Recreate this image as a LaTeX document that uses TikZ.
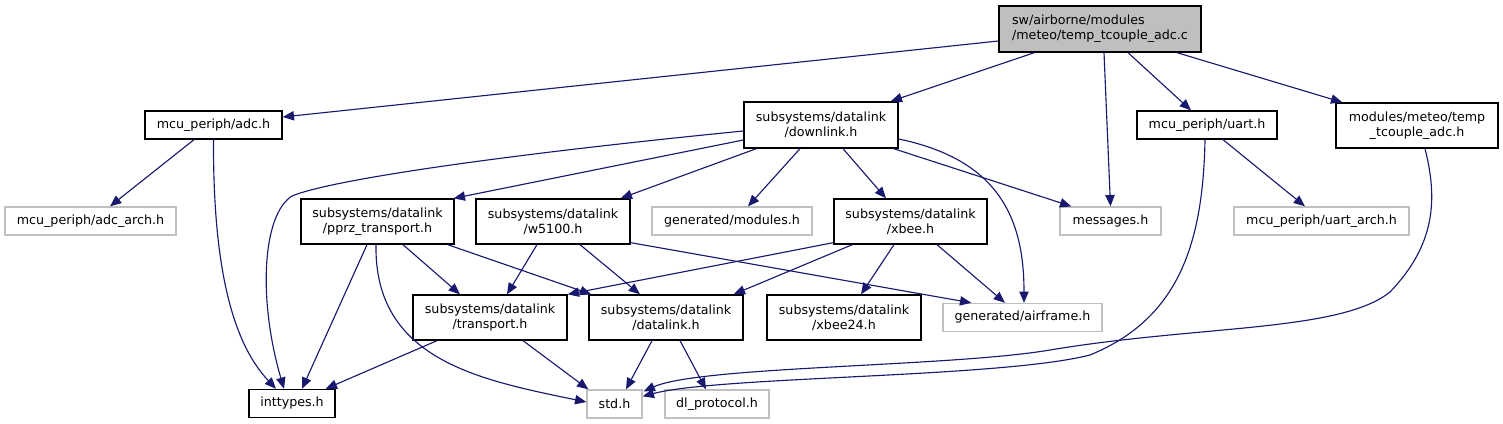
\documentclass[tikz,border=0pt]{standalone}
\usepackage{fontspec}
\setmainfont{DejaVu Sans}
\usetikzlibrary{arrows.meta,calc}
\definecolor{edgeblue}{HTML}{191970}
\definecolor{greyb}{HTML}{BFBFBF}
\begin{document}
\begin{tikzpicture}[x=0.75pt,y=-0.75pt,
  base/.style={draw, line width=1pt, inner sep=0pt, align=center, font=\fontsize{9.5}{11.25}\selectfont},
  doc/.style={base, draw=black},
  ext/.style={base, draw=greyb},
  bw/.style={minimum width=#1*0.75pt},
  bh/.style={minimum height=#1*0.75pt},
  dep/.style={draw=edgeblue, line width=0.85pt, -{Triangle[length=8.5pt,width=7pt]}}]
\useasboundingbox (0,0) rectangle (1503,424);
% nodes
\node[doc, fill=greyb, bw=202, bh=46, align=left] (root) at (1100,29) {sw/airborne/modules\\/meteo/temp\_tcouple\_adc.c};
\node[doc, bw=137, bh=28] (adc) at (213.5,125) {mcu\_periph/adc.h};
\node[ext, bw=171, bh=28] (adcarch) at (90.5,221) {mcu\_periph/adc\_arch.h};
\node[doc, bw=154, bh=46] (downlink) at (821,125) {subsystems/datalink\\/downlink.h};
\node[doc, bw=140, bh=28] (uart) at (1207,125) {mcu\_periph/uart.h};
\node[doc, bw=162, bh=45] (temph) at (1417,125.5) {modules/meteo/temp\\\_tcouple\_adc.h};
\node[doc, bw=153, bh=45] (pprz) at (377.5,221.5) {subsystems/datalink\\/pprz\_transport.h};
\node[doc, bw=154, bh=45] (w5100) at (553,221.5) {subsystems/datalink\\/w5100.h};
\node[ext, bw=160, bh=28] (modules) at (732,221) {generated/modules.h};
\node[doc, bw=153, bh=45] (xbee) at (910.5,221.5) {subsystems/datalink\\/xbee.h};
\node[ext, bw=101, bh=28] (messages) at (1110.5,221) {messages.h};
\node[ext, bw=175, bh=28] (uartarch) at (1321.5,221) {mcu\_periph/uart\_arch.h};
\node[doc, bw=154, bh=45] (transport) at (490,317.5) {subsystems/datalink\\/transport.h};
\node[doc, bw=154, bh=45] (datalink) at (666,317.5) {subsystems/datalink\\/datalink.h};
\node[doc, bw=154, bh=45] (xbee24) at (844,317.5) {subsystems/datalink\\/xbee24.h};
\node[ext, bw=159, bh=28] (airframe) at (1022.5,317.5) {generated/airframe.h};
\node[doc, bw=86, bh=28] (inttypes) at (292,403.5) {inttypes.h};
\node[ext, bw=55, bh=28] (std) at (614.5,404) {std.h};
\node[ext, bw=104, bh=28] (dlproto) at (717,404) {dl\_protocol.h};
% edges
\draw[dep] ($(root.west)+(0,12)$) -- ($(adc.east)+(0,-8)$);
\draw[dep] ($(root.south west)+(36,0)$) -- ($(downlink.north east)+(-8,0)$);
\draw[dep] ($(root.south)+(4,0)$) -- (messages.north);
\draw[dep] ($(root.south)+(28,0)$) -- ($(uart.north)+(-16,0)$);
\draw[dep] ($(root.south)+(77,0)$) -- ($(temph.north west)+(7,0)$);
\draw[dep] ($(adc.south)+(-19.5,0)$) -- ($(adcarch.north)+(19.5,0)$);
\draw[dep] (adc.south) .. controls (213,260) and (230,340) .. ($(inttypes.north)+(-16,0)$);
\draw[dep] ($(downlink.west)+(0,6)$) .. controls (500,155) and (330,180) .. (292,196) .. controls (262,215) and (258,300) .. ($(inttypes.north)+(-8,0)$);
\draw[dep] ($(downlink.west)+(0,15)$) -- ($(pprz.north east)+(-1,0)$);
\draw[dep] ($(downlink.south west)+(13,0)$) -- ($(w5100.north east)+(-10,0)$);
\draw[dep] ($(downlink.south)+(-21,0)$) -- ($(modules.north)+(16,0)$);
\draw[dep] ($(downlink.south)+(22,0)$) -- ($(xbee.north)+(-24.5,0)$);
\draw[dep] ($(downlink.south east)+(-5,0)$) -- ($(messages.north west)+(12,0)$);
\draw[dep] ($(downlink.east)+(0,14)$) .. controls (1000,160) and (1024,220) .. ($(airframe.north)+(1.5,0)$);
\draw[dep] ($(uart.south)+(16,0)$) -- ($(uartarch.north)+(-16.5,0)$);
\draw[dep] ($(uart.south)+(-2,0)$) .. controls (1203,250) and (1175,320) .. (1090,355) .. controls (1000,378) and (720,376) .. ($(std.north east)+(0,7)$);
\draw[dep] ($(temph.south)+(8,0)$) .. controls (1438,200) and (1435,245) .. (1390,292) .. controls (1340,332) and (1200,325) .. (1050,350) .. controls (950,367) and (700,366) .. ($(std.north east)+(1,2)$);
\draw[dep] ($(pprz.south)+(-10.5,0)$) -- ($(inttypes.north)+(10,0)$);
\draw[dep] ($(pprz.south)+(-1.5,0)$) .. controls (374,360) and (480,380) .. ($(std.west)+(0,-2)$);
\draw[dep] ($(pprz.south)+(25.5,0)$) -- ($(transport.north)+(-30,0)$);
\draw[dep] ($(pprz.south east)+(-7,0)$) -- ($(datalink.north west)+(3,0)$);
\draw[dep] ($(w5100.south)+(-16,0)$) -- ($(transport.north)+(17,0)$);
\draw[dep] ($(w5100.south)+(27,0)$) -- ($(datalink.north)+(-26,0)$);
\draw[dep] ($(w5100.south east)+(0,-2)$) -- ($(airframe.north west)+(29,0)$);
\draw[dep] ($(xbee.south west)+(0,-2)$) -- (transport.north east);
\draw[dep] ($(xbee.south west)+(19,0)$) -- ($(datalink.north east)+(-10,0)$);
\draw[dep] ($(xbee.south)+(-16.5,0)$) -- ($(xbee24.north)+(17,0)$);
\draw[dep] ($(xbee.south)+(26.5,0)$) -- ($(airframe.north)+(-17.5,0)$);
\draw[dep] ($(transport.south)+(-53,0)$) -- ($(inttypes.north east)+(-10,0)$);
\draw[dep] ($(transport.south)+(33,0)$) -- ($(std.north west)+(2,0)$);
\draw[dep] ($(datalink.south)+(-14,0)$) -- ($(std.north)+(11.5,0)$);
\draw[dep] ($(datalink.south)+(14,0)$) -- ($(dlproto.north)+(-11,0)$);
\end{tikzpicture}
\end{document}
